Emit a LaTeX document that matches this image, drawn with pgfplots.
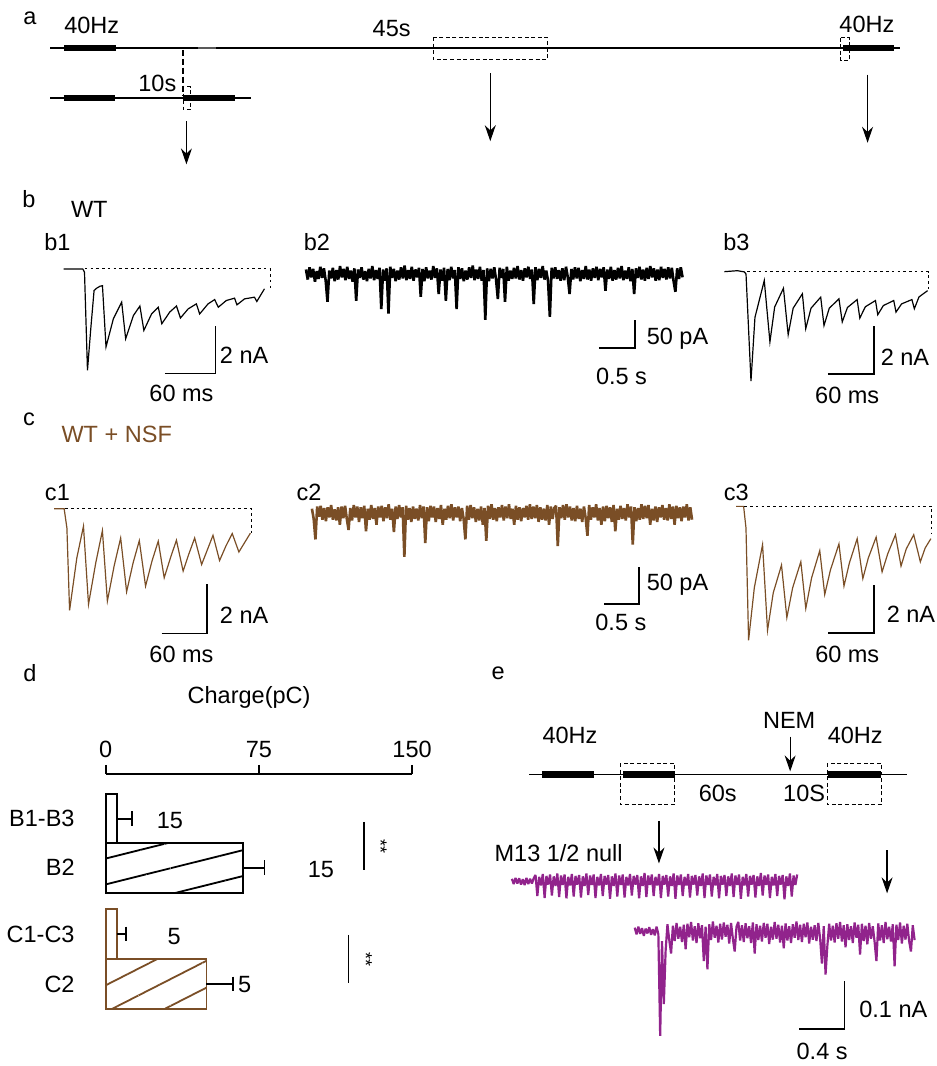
\documentclass[border=0pt]{standalone}
\usepackage{fontspec}
\setmainfont{Liberation Sans}
\usepackage{pgfplots}
\pgfplotsset{compat=1.18}
\usetikzlibrary{arrows.meta,patterns.meta}
\definecolor{nsfbrown}{RGB}{122,78,38}
\definecolor{nempurple}{RGB}{145,35,140}
\newcommand{\fs}{\fontsize{11.8}{14}\selectfont}
\tikzset{
  sb/.style={line width=0.9pt},
  base/.style={line width=0.5pt, dash pattern=on 1.3pt off 1.6pt},
  arr/.style={line width=0.6pt, -{Stealth[length=8pt,width=5.5pt]}},
  box/.style={line width=0.5pt, dash pattern=on 2pt off 1.3pt},
  thick bar/.style={line width=3.3pt},
  tl/.style={line width=0.75pt}
}
\pgfplotsset{trace/.style={hide axis, clip=false, anchor=south west},
  ebar/.style={error bars/.cd, x dir=plus, x explicit, error mark=|,
    error bar style={line width=0.9pt, black},
    error mark options={line width=0.9pt, mark size=3.75pt, black}}}
\begin{document}
\begin{tikzpicture}[font=\fs]
% ---------- master frame (pixel coordinates) ----------
\begin{axis}[at={(0pt,0pt)}, anchor=south west, x=0.5pt, y=0.5pt, y dir=reverse,
  xmin=0, xmax=933, ymin=0, ymax=1066, hide axis, clip=false]
\path (axis cs:0,0) rectangle (axis cs:933,1066);
% panel a
\node at (axis cs:23,18) {a};
\draw[tl] (axis cs:43.3,48.3) -- (axis cs:896.7,48.3);
\draw[tl, black!65] (axis cs:191.7,48.3) -- (axis cs:209.3,48.3);
\draw[thick bar] (axis cs:57.3,48.3) -- (axis cs:109,48.3);
\draw[thick bar] (axis cs:839.3,48.3) -- (axis cs:890,48.3);
\draw[box] (axis cs:427.7,37.3) rectangle (axis cs:542,60);
\draw[box] (axis cs:837,37.7) rectangle (axis cs:845.3,61);
\draw[line width=0.9pt, dash pattern=on 3pt off 1.5pt] (axis cs:176.7,50) -- (axis cs:176.7,96.7);
\draw[tl] (axis cs:43.3,98.3) -- (axis cs:245,98.3);
\draw[thick bar] (axis cs:56.7,98.3) -- (axis cs:108.3,98.3);
\draw[thick bar] (axis cs:176.7,98.3) -- (axis cs:229,98.3);
\draw[box] (axis cs:176.7,87.3) rectangle (axis cs:184.3,110);
\node at (axis cs:85,25.5) {40Hz};
\node at (axis cs:386,28.3) {45s};
\node at (axis cs:150.8,84) {10s};
\node at (axis cs:863,25) {40Hz};
\draw[arr] (axis cs:180,121.7) -- (axis cs:180,165);
\draw[arr] (axis cs:485,73.3) -- (axis cs:485,141.7);
\draw[arr] (axis cs:863.7,75) -- (axis cs:863.7,143.3);
% panel b, c labels
\node at (axis cs:22,200) {b};
\node at (axis cs:82.5,210) {WT};
\node at (axis cs:50.5,243.5) {b1};
\node at (axis cs:311,243.5) {b2};
\node at (axis cs:732,243.5) {b3};
\node at (axis cs:22,421) {c};
\node[text=nsfbrown] at (axis cs:110,436) {WT + NSF};
\node at (axis cs:50.5,494) {c1};
\node at (axis cs:303,494) {c2};
\node at (axis cs:732,494) {c3};
\node at (axis cs:23,676) {d};
\node at (axis cs:493,676) {e};
% panel e schematic
\draw[tl] (axis cs:524.3,777.3) -- (axis cs:903.3,777.3);
\draw[thick bar] (axis cs:536.7,777.3) -- (axis cs:589,777.3);
\draw[thick bar] (axis cs:618.3,777.3) -- (axis cs:670,777.3);
\draw[thick bar] (axis cs:824.3,777.3) -- (axis cs:877.3,777.3);
\draw[box] (axis cs:615.7,766) rectangle (axis cs:670,807.7);
\draw[box] (axis cs:823.3,766) rectangle (axis cs:877.7,807.7);
\node at (axis cs:565,738.3) {40Hz};
\node at (axis cs:851.3,738.3) {40Hz};
\node at (axis cs:713.3,796.7) {60s};
\node at (axis cs:800,796.7) {10S};
\node at (axis cs:785,722.7) {NEM};
\draw[arr] (axis cs:786,739.3) -- (axis cs:786,774.3);
\draw[arr] (axis cs:654.3,824) -- (axis cs:654.3,866.7);
\draw[arr] (axis cs:883.3,853.3) -- (axis cs:883.3,896.7);
\node[anchor=east, inner sep=0pt] at (axis cs:618.3,856.7) {M13 1/2 null};
\end{axis}

% ---------- b1 ----------
\begin{axis}[trace, at={(28.35pt,338pt)}, x=0.425pt, y=12pt, xmin=0, xmax=250, ymin=-5, ymax=0.5]
\addplot[black, line width=0.6pt] coordinates {
(0,0) (22.7,0) (24.7,-0.14) (28.2,-4.24) (32.1,-2.50) (36.0,-0.90) (39.2,-0.80)
(43.1,-0.72) (45.9,-0.70) (50.1,-3.26) (58.8,-2.08) (68.6,-1.39) (73.3,-2.92)
(82.4,-1.95) (90.1,-1.55) (94.8,-2.57) (103.9,-1.88) (111.8,-1.60) (116.0,-2.29)
(125.4,-1.80) (133.3,-1.55) (138.0,-2.05) (147.1,-1.67) (156.8,-1.46) (160.7,-1.88)
(170.6,-1.46) (178.4,-1.28) (182.7,-1.60) (192.1,-1.32) (201.9,-1.22) (204.7,-1.50)
(213.7,-1.25) (225.4,-1.18) (228.2,-1.36) (237.2,-0.83)};
\draw[base] (axis cs:25,0) -- (axis cs:244.2,0) -- (axis cs:244.2,-0.83);
\draw[sb] (axis cs:119.5,-4.375) -- (axis cs:179.5,-4.375) -- (axis cs:179.5,-2.375);
\node[anchor=west, inner sep=0pt] at (axis cs:184.2,-3.61) {2 nA};
\node at (axis cs:139.2,-5.21) {60 ms};
\end{axis}

% ---------- b2 ----------
\begin{axis}[trace, at={(150pt,370.3pt)}, x=36pt, y=0.28pt, xmin=0, xmax=5.3, ymin=-90, ymax=25]
\addplot[black, line width=1.3pt, line join=bevel] table[x expr=\coordindex*0.025, y index=0, header=false, row sep=\\] {
8\\-10\\12\\-6\\9\\-14\\5\\-9\\13\\-7\\
10\\-12\\-50\\6\\-8\\11\\-13\\7\\-10\\14\\
-6\\9\\-11\\13\\-9\\6\\-14\\10\\-48\\8\\
-7\\12\\-10\\5\\-13\\9\\-8\\14\\-11\\7\\
-9\\11\\-63\\8\\-12\\10\\-71\\13\\-7\\9\\
-13\\6\\-10\\12\\-8\\15\\-11\\7\\-9\\13\\
-12\\8\\-6\\11\\-41\\9\\-13\\12\\-8\\6\\
-10\\14\\-7\\10\\-36\\8\\-12\\11\\-48\\9\\
-11\\13\\-8\\7\\-63\\12\\-9\\10\\-13\\6\\
-10\\12\\-7\\15\\-11\\8\\-9\\13\\-12\\7\\
-82\\10\\-13\\9\\-8\\12\\-10\\-45\\11\\-7\\
9\\-50\\13\\-12\\6\\-9\\11\\-8\\14\\-10\\
7\\-12\\10\\-6\\13\\-9\\8\\-54\\12\\-11\\
9\\-7\\14\\-10\\6\\-13\\-77\\11\\-8\\12\\
-9\\7\\-12\\10\\-11\\13\\-6\\-36\\9\\-10\\
12\\-8\\11\\-13\\7\\-9\\14\\-10\\8\\-12\\
10\\-7\\13\\-11\\9\\-6\\12\\-30\\8\\-9\\
13\\-12\\7\\-10\\11\\-8\\14\\-11\\6\\-9\\
12\\-13\\9\\-36\\10\\-7\\13\\-10\\8\\-12\\
11\\-9\\14\\-6\\10\\-12\\8\\-11\\13\\-7\\
9\\-10\\12\\-8\\11\\-13\\-32\\10\\-9\\12\\-6\\
};
\draw[sb] (axis cs:4.083,-132.7) -- (axis cs:4.583,-132.7) -- (axis cs:4.583,-82.7);
\node[anchor=west, inner sep=0pt] at (axis cs:4.746,-116) {50 pA};
\node at (axis cs:4.399,-184.5) {0.5 s};
\end{axis}

% ---------- b3 ----------
\begin{axis}[trace, at={(360pt,336.28pt)}, x=0.3833pt, y=12.075pt, xmin=0, xmax=270, ymin=-5, ymax=0.5]
\addplot[black, line width=0.6pt] coordinates {
(0,0) (17.0,0.04) (26.1,-0.01) (28.3,-0.10) (34.8,-4.55) (40.0,-1.9) (52.2,-0.37)
(59.6,-2.92) (65.8,-1.47) (77.3,-0.69) (83.5,-2.62) (90.0,-1.52) (102.1,-0.92)
(106.5,-2.37) (113.4,-1.52) (126.1,-1.06) (130.4,-2.24) (137.3,-1.52) (150.0,-1.13)
(154.3,-2.09) (161.1,-1.49) (173.8,-1.16) (177.3,-1.93) (184.5,-1.46) (197.8,-1.20)
(200.8,-1.79) (208.1,-1.41) (221.7,-1.20) (224.7,-1.68) (232.0,-1.34) (245.5,-1.16)
(248.7,-1.54) (254.8,-1.05) (266.0,-0.79)};
\draw[base] (axis cs:30,0) -- (axis cs:267.3,0) -- (axis cs:267.3,-0.85);
\draw[sb] (axis cs:135.6,-4.24) -- (axis cs:195.6,-4.24) -- (axis cs:195.6,-2.24);
\node[anchor=west, inner sep=0pt] at (axis cs:204.3,-3.54) {2 nA};
\node at (axis cs:160.8,-5.13) {60 ms};
\end{axis}

% ---------- c1 ----------
\begin{axis}[trace, at={(23.65pt,216.03pt)}, x=0.3833pt, y=12.325pt, xmin=0, xmax=265, ymin=-5, ymax=0.5]
\addplot[nsfbrown, line width=0.6pt] coordinates {
(0,0) (13.0,0) (16.6,-0.78) (20.1,-4.14) (29.6,-2.0) (38.3,-0.71) (44.9,-3.89)
(54.4,-2.20) (63.1,-0.89) (69.6,-3.76) (78.5,-2.32) (87.0,-1.19) (94.8,-3.38)
(103.3,-2.20) (111.4,-1.30) (119.6,-3.15) (128.1,-2.12) (136.2,-1.32) (144.0,-2.81)
(152.2,-2.00) (160.0,-1.28) (168.8,-2.54) (176.3,-1.84) (183.9,-1.19) (193.0,-2.27)
(200.4,-1.68) (207.9,-1.08) (216.5,-2.11) (224.9,-1.51) (233.1,-1.01) (241.8,-1.76)
(256.9,-0.99)};
\draw[base] (axis cs:14.3,0) -- (axis cs:257.9,0) -- (axis cs:257.9,-0.99);
\draw[sb] (axis cs:140.5,-5.08) -- (axis cs:200.5,-5.08) -- (axis cs:200.5,-3.08);
\node[anchor=west, inner sep=0pt] at (axis cs:216.5,-4.32) {2 nA};
\node at (axis cs:166.6,-5.92) {60 ms};
\end{axis}

% ---------- c2 ----------
\begin{axis}[trace, at={(153pt,249.8pt)}, x=35pt, y=0.367pt, xmin=0, xmax=5.5, ymin=-70, ymax=20]
\addplot[nsfbrown, line width=1.3pt, line join=bevel] table[x expr=\coordindex*0.025, y index=0, header=false, row sep=\\] {
6\\-8\\-36\\9\\-5\\10\\-9\\7\\-11\\8\\
-6\\11\\-9\\5\\-10\\8\\-16\\9\\-7\\10\\
-8\\-23\\7\\-10\\11\\-6\\9\\-12\\8\\-7\\
10\\-25\\6\\-9\\11\\-8\\7\\-16\\9\\-6\\
10\\-11\\8\\-7\\12\\-9\\6\\-26\\9\\-8\\
11\\-6\\8\\-60\\10\\-9\\7\\-12\\9\\-8\\
6\\-10\\11\\-7\\9\\-41\\8\\-11\\10\\-6\\
9\\-12\\7\\-8\\11\\-16\\6\\-9\\10\\-7\\
12\\-10\\8\\-6\\9\\-11\\7\\-8\\-36\\10\\
-9\\11\\-7\\8\\-12\\6\\-10\\9\\-16\\7\\
-38\\10\\-8\\12\\-9\\7\\-11\\8\\-6\\11\\
-10\\9\\-7\\12\\-8\\6\\-16\\10\\-9\\8\\
-11\\7\\-6\\10\\-9\\12\\-8\\9\\-7\\11\\
-12\\8\\-9\\6\\-10\\11\\-16\\9\\-8\\7\\
10\\-45\\8\\-7\\11\\-9\\12\\-6\\9\\-10\\
7\\-11\\10\\-8\\6\\-12\\9\\-7\\-31\\11\\
-9\\8\\-6\\12\\-10\\7\\-16\\9\\-11\\10\\
-7\\8\\-12\\11\\-25\\6\\-9\\10\\-8\\7\\
-10\\12\\-6\\9\\-43\\8\\-11\\7\\-9\\12\\
-8\\10\\-7\\11\\-16\\6\\-10\\9\\-12\\8\\
-6\\11\\-9\\7\\-10\\12\\-8\\9\\-16\\10\\
-7\\8\\-11\\9\\-6\\12\\-10\\8\\-9\\
};
\draw[sb] (axis cs:4.19,-123.9) -- (axis cs:4.69,-123.9) -- (axis cs:4.69,-73.9);
\node[anchor=west, inner sep=0pt] at (axis cs:4.796,-97.7) {50 pA};
\node at (axis cs:4.43,-149.8) {0.5 s};
\end{axis}

% ---------- c3 ----------
\begin{axis}[trace, at={(365.85pt,206.35pt)}, x=0.3833pt, y=12.085pt, xmin=0, xmax=265, ymin=-6, ymax=0.5]
\addplot[nsfbrown, line width=0.6pt] coordinates {
(0,0) (9.9,0) (13.0,-0.90) (16.4,-5.56) (23.9,-3.38) (34.7,-1.59) (41.2,-5.15)
(48.7,-3.59) (59.5,-2.44) (66.5,-4.62) (74.1,-3.38) (84.8,-2.30) (91.3,-4.24)
(98.9,-2.97) (109.6,-1.84) (116.1,-3.66) (123.6,-2.64) (134.7,-1.56) (141.3,-3.31)
(148.4,-2.35) (158.6,-1.34) (166.0,-3.00) (173.2,-2.14) (183.4,-1.28) (191.2,-2.72)
(198.6,-1.97) (208.7,-1.18) (216.0,-2.48) (222.8,-1.77) (232.6,-1.18) (241.3,-2.30)
(247.6,-1.73) (255.1,-1.34)};
\draw[base] (axis cs:10.8,0) -- (axis cs:256.4,0) -- (axis cs:256.4,-1.10);
\draw[sb] (axis cs:120.4,-5.27) -- (axis cs:180.4,-5.27) -- (axis cs:180.4,-3.27);
\node[anchor=west, inner sep=0pt] at (axis cs:196.9,-4.48) {2 nA};
\node at (axis cs:145.6,-6.14) {60 ms};
\end{axis}

% ---------- d : bar chart ----------
\begin{axis}[at={(49.5pt,26.65pt)}, anchor=south west, x=1.025pt, y=25pt,
  xmin=0, xmax=150, ymin=-0.5, ymax=4.22, clip=false,
  axis x line*=top, axis y line*=left, y axis line style={draw=none},
  xtick={0,75,150}, ytick={0,1.004,2.334,3.32},
  yticklabels={C2,C1-C3,B2,B1-B3},
  tick align=outside, major tick length=4.5pt,
  x axis line style={line width=0.8pt}, xtick style={line width=0.8pt, black},
  ytick style={draw=none},
  yticklabel style={xshift=-7.6pt},
  /pgf/number format/assume math mode=true]
\addplot[xbar, bar shift=0pt, bar width=25pt, draw=black, fill=white, line width=0.9pt, ebar]
  coordinates {(5.4,3.32) +- (7.3,0)};
\addplot[xbar, bar shift=0pt, bar width=25pt, draw=black, fill=white, line width=0.9pt,
  postaction={pattern={Lines[angle=14,distance=12.6pt,line width=0.9pt]}, pattern color=black}, ebar]
  coordinates {(67.2,2.334) +- (10.5,0)};
\addplot[xbar, bar shift=0pt, bar width=25pt, draw=nsfbrown, fill=white, line width=0.9pt, ebar]
  coordinates {(5.5,1.004) +- (4.4,0)};
\addplot[xbar, bar shift=0pt, bar width=25pt, draw=nsfbrown, fill=white, line width=0.9pt,
  postaction={pattern={Lines[angle=27,distance=12pt,line width=0.9pt]}, pattern color=nsfbrown}, ebar]
  coordinates {(49.3,0) +- (13.0,0)};
\node at (axis cs:31.4,3.29) {15};
\node at (axis cs:105.4,2.29) {15};
\node at (axis cs:33.5,0.954) {5};
\node at (axis cs:68,-0.01) {5};
\draw[line width=0.6pt] (axis cs:126.5,3.254) -- (axis cs:126.5,2.288);
\node[rotate=-90, font=\fontsize{9}{10}\selectfont] at (axis cs:134.6,2.754) {**};
\draw[line width=0.6pt] (axis cs:118.7,0.988) -- (axis cs:118.7,0.02);
\node[rotate=-90, font=\fontsize{9}{10}\selectfont] at (axis cs:127.3,0.488) {**};
\node at (axis cs:70.2,5.754) {Charge(pC)};
\end{axis}

% ---------- e1 ----------
\begin{axis}[trace, at={(253.35pt,78.5pt)}, x=57pt, y=0.24pt, xmin=0, xmax=2.6, ymin=-50, ymax=30]
\addplot[nempurple, line width=1.1pt, line join=bevel] table[x expr=\coordindex*0.016, y index=0, header=false, row sep=\\] {
6\\-5\\8\\-4\\7\\-6\\5\\-7\\8\\-5\\6\\-4\\7\\
14\\-30\\10\\-8\\16\\-34\\12\\-6\\15\\-29\\
11\\-9\\17\\-32\\13\\-7\\15\\-35\\10\\-8\\
16\\-31\\12\\-6\\14\\-33\\11\\-9\\17\\-28\\
13\\-7\\15\\-34\\10\\-8\\16\\-30\\12\\-6\\
14\\-36\\11\\-9\\17\\-31\\13\\-7\\15\\-33\\
10\\-8\\16\\-29\\12\\-6\\14\\-35\\11\\-9\\
18\\-32\\13\\-7\\15\\-30\\10\\-8\\16\\-34\\
12\\-6\\14\\-31\\11\\-9\\17\\-36\\13\\-7\\
15\\-30\\10\\-8\\16\\-33\\12\\-6\\14\\-29\\
11\\-9\\17\\-34\\13\\-7\\15\\-31\\10\\-8\\
16\\-35\\12\\-6\\14\\-30\\11\\-9\\17\\-32\\
13\\-7\\15\\-36\\10\\-8\\16\\-31\\12\\-6\\
14\\-33\\11\\-9\\18\\-29\\13\\-7\\15\\-34\\
10\\-8\\16\\-30\\12\\-6\\14\\-37\\11\\-9\\
17\\-31\\13\\-7\\15\\
};
\end{axis}

% ---------- e2 ----------
\begin{axis}[trace, at={(315pt,3.1pt)}, x=57pt, y=0.24pt, xmin=0, xmax=2.6, ymin=-260, ymax=40]
\addplot[nempurple, line width=1.1pt, line join=bevel] table[x expr=\coordindex*0.016, y index=0, header=false, row sep=\\] {
8\\-6\\10\\-5\\7\\-9\\6\\-4\\9\\-7\\5\\-8\\10\\-6\\
-218\\-20\\-152\\-40\\15\\-18\\
-46\\12\\-20\\18\\-15\\10\\-22\\14\\-37\\16\\
-12\\20\\-19\\11\\-24\\17\\-14\\13\\-62\\10\\
-79\\15\\-18\\21\\-13\\12\\-23\\16\\-17\\19\\
-11\\14\\-25\\18\\-15\\-42\\10\\20\\-19\\13\\
-22\\17\\-14\\11\\-24\\19\\-46\\15\\-18\\12\\
-21\\18\\-13\\16\\-26\\10\\-17\\20\\-15\\14\\
-23\\12\\-35\\17\\-19\\11\\-24\\15\\-13\\21\\
-18\\14\\-22\\16\\-12\\19\\-25\\10\\-17\\13\\
-20\\18\\-14\\-67\\11\\-90\\-30\\16\\-19\\12\\
-23\\17\\-15\\20\\-21\\13\\-33\\15\\-18\\11\\
-24\\19\\-13\\14\\-48\\16\\-20\\12\\-27\\18\\
-15\\11\\-22\\-62\\17\\-19\\13\\-24\\20\\-16\\
10\\-21\\15\\-73\\14\\-18\\19\\-25\\12\\-17\\
16\\-20\\-42\\13\\-18\\
};
\draw[sb] (axis cs:1.447,-203.5) -- (axis cs:1.847,-203.5) -- (axis cs:1.847,-103.5);
\node[anchor=west, inner sep=0pt] at (axis cs:1.974,-162.5) {0.1 nA};
\node at (axis cs:1.65,-250) {0.4 s};
\end{axis}
\end{tikzpicture}
\end{document}
